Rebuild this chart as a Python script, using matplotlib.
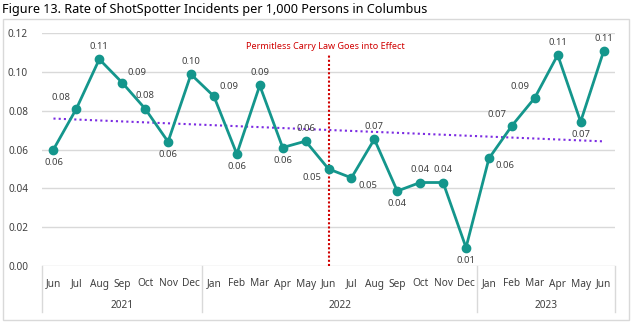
import numpy as np
import matplotlib.pyplot as plt
from matplotlib.patches import Rectangle
from matplotlib.transforms import blended_transform_factory

plt.rcParams['font.family'] = ['Noto Sans', 'DejaVu Sans']

months = ['Jun', 'Jul', 'Aug', 'Sep', 'Oct', 'Nov', 'Dec',
          'Jan', 'Feb', 'Mar', 'Apr', 'May', 'Jun', 'Jul', 'Aug', 'Sep', 'Oct', 'Nov', 'Dec',
          'Jan', 'Feb', 'Mar', 'Apr', 'May', 'Jun']
years = ['2021', '2022', '2023']
year_counts = [7, 12, 6]
rates = [0.060, 0.081, 0.1065, 0.0944, 0.081, 0.064, 0.0987,
         0.0874, 0.0577, 0.093, 0.061, 0.0643, 0.050, 0.0454, 0.0653, 0.0386, 0.043, 0.043, 0.0095,
         0.0554, 0.0722, 0.0866, 0.1087, 0.0743, 0.1105]
law_index = 12
law_text = 'Permitless Carry Law Goes into Effect'

# where each data label sits relative to its point (points offset)
label_pos = ['b', 'ul', 'a', 'ur', 'a', 'b', 'a',
             'ur', 'b', 'a', 'b', 'a', 'll', 'lr', 'a', 'b', 'a', 'a', 'b',
             'lr', 'ul', 'ul', 'a', 'b', 'a']
offsets = {'a': (0, 6, 'center', 'bottom'), 'b': (0, -6, 'center', 'top'),
           'ul': (-4, 5, 'right', 'bottom'), 'ur': (4, 4, 'left', 'bottom'),
           'll': (-5, -3, 'right', 'top'), 'lr': (5, -2, 'left', 'top')}

teal = '#14968C'
x = np.arange(len(rates))

fig = plt.figure(figsize=(6.35, 3.24), dpi=100)
fig.patches.append(Rectangle((3 / 635, 1 - 320 / 324), 626 / 635, 301 / 324,
                             transform=fig.transFigure, fill=False,
                             edgecolor='#d9d9d9', linewidth=1))
fig.text(2 / 635, 1 - 10 / 324, 'Figure 13. Rate of ShotSpotter Incidents per 1,000 Persons in Columbus',
         fontsize=9.1, color='#000000', ha='left', va='center')

ax = fig.add_axes([42 / 635, 1 - 266 / 324, 573 / 635, 233 / 324])
ax.set_xlim(-0.5, len(rates) - 0.5)
ax.set_ylim(0, 0.12)
ax.set_yticks(np.arange(0, 0.121, 0.02))
ax.set_yticklabels([f'{v:.2f}' for v in np.arange(0, 0.121, 0.02)])
ax.yaxis.grid(True, color='#d9d9d9', linewidth=1)
ax.set_axisbelow(True)
for s in ax.spines.values():
    s.set_visible(False)
ax.tick_params(axis='y', length=0, pad=10, labelsize=7.2, labelcolor='#404040')

ax.set_xticks(x)
ax.set_xticklabels(months)
ax.tick_params(axis='x', length=0, pad=9, labelsize=7.3, labelcolor='#404040')

# trend line
slope, icpt = np.polyfit(x, rates, 1)
ax.plot(x, slope * x + icpt, linestyle=(0, (1, 1.5)), color='#7B2BE2', linewidth=1.5, zorder=2)

ax.plot(x, rates, color=teal, linewidth=2, marker='o', markersize=6, zorder=3)

for i, v in enumerate(rates):
    dx, dy, ha, va = offsets[label_pos[i]]
    ax.annotate(f'{v:.2f}', (i, v), xytext=(dx, dy), textcoords='offset points',
                ha=ha, va=va, fontsize=6.8, color='#404040', zorder=4)

# law line
ax.plot([law_index, law_index], [0, 0.1085], color='#D00000', linestyle=(0, (1, 1)),
        linewidth=1.5, zorder=2.5)
ax.text(law_index - 0.15, 0.1128, law_text, ha='center', va='center', fontsize=6.5, color='#D00000')

# category table below axis
tr = blended_transform_factory(ax.transData, ax.transAxes)
bounds = np.concatenate([[0], np.cumsum(year_counts)]) - 0.5
for b in bounds:
    ax.plot([b, b], [0, -46 / 233], transform=tr, color='#d9d9d9', linewidth=1, clip_on=False)
for k, yr in enumerate(years):
    ax.text((bounds[k] + bounds[k + 1]) / 2, -39 / 233, yr, transform=tr,
            ha='center', va='center', fontsize=7.3, color='#404040')

fig.savefig('out.png', dpi=100)
